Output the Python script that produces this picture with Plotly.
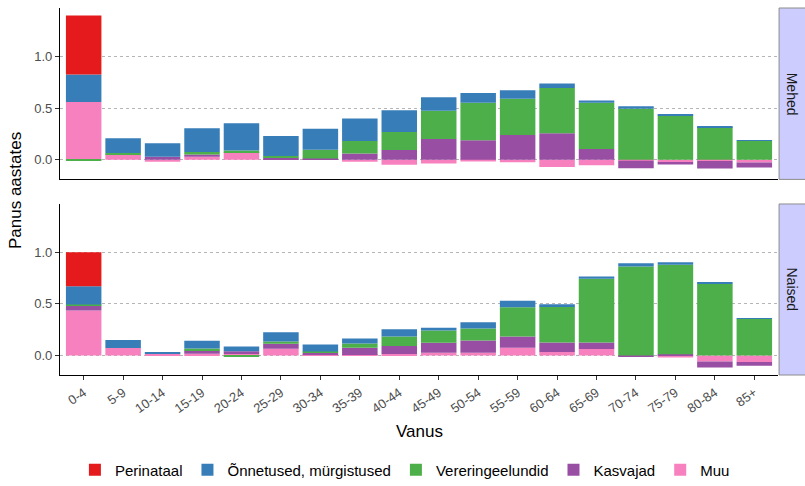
import plotly.graph_objects as go

categories = ['0-4', '5-9', '10-14', '15-19', '20-24', '25-29', '30-34', '35-39', '40-44',
              '45-49', '50-54', '55-59', '60-64', '65-69', '70-74', '75-79', '80-84', '85+']

cause_names = ['Perinataal', 'Õnnetused, mürgistused', 'Vereringeelundid', 'Kasvajad', 'Muu']
cause_colors = ['#E41A1C', '#377EB8', '#4DAF4A', '#984EA3', '#F781BF']
facets = ['Mehed', 'Naised']

# Mehed
mehed_perinataal = [0.573, 0, 0, 0, 0, 0, 0, 0, 0, 0, 0, 0, 0, 0, 0, 0, 0, 0]
mehed_onnetused = [0.265, 0.143, 0.13, 0.23, 0.263, 0.193, 0.205, 0.217, 0.211, 0.13, 0.095,
                   0.082, 0.042, 0.02, 0.023, 0.013, 0.004, 0.005]
mehed_vereringe = [-0.01, 0.01, 0.0, 0.025, 0.015, 0.015, 0.083, 0.123, 0.175, 0.275, 0.362,
                   0.352, 0.44, 0.449, 0.495, 0.431, 0.317, 0.182]
mehed_kasvajad = [0.0, 0.0, 0.03, 0.02, 0.0, 0.015, 0.01, 0.06, 0.094, 0.20, 0.19,
                  0.24, 0.256, 0.104, -0.073, -0.018, -0.071, -0.047]
mehed_muu = [0.56, 0.055, -0.02, 0.03, 0.075, 0.007, 0.003, -0.02, -0.048, -0.035, -0.016,
             -0.023, -0.07, -0.052, -0.01, -0.027, -0.013, -0.027]

# Naised
naised_perinataal = [0.329, 0, 0, 0, 0, 0, 0, 0, 0, 0, 0, 0, 0, 0, 0, 0, 0, 0]
naised_onnetused = [0.178, 0.078, 0.017, 0.075, 0.047, 0.091, 0.068, 0.049, 0.071, 0.026, 0.062,
                    0.062, 0.019, 0.02, 0.032, 0.023, 0.016, 0.003]
naised_vereringe = [0.013, 0.0, 0.0, 0.019, -0.01, 0.022, 0.013, 0.041, 0.093, 0.119, 0.116,
                    0.284, 0.352, 0.619, 0.862, 0.869, 0.694, 0.355]
naised_kasvajad = [0.045, 0.0, 0.0, 0.032, 0.025, 0.048, 0.016, 0.07, 0.078, 0.097, 0.119,
                   0.109, 0.093, 0.064, -0.008, 0.012, -0.058, -0.035]
naised_muu = [0.436, 0.071, 0.016, 0.016, 0.015, 0.065, 0.01, 0.005, 0.013, 0.026, 0.026,
              0.075, 0.033, 0.062, 0.0, -0.02, -0.058, -0.065]

y_ticks = [0.0, 0.5, 1.0]
y_tick_labels = ['0.0', '0.5', '1.0']

data = {
    'Mehed': [mehed_perinataal, mehed_onnetused, mehed_vereringe, mehed_kasvajad, mehed_muu],
    'Naised': [naised_perinataal, naised_onnetused, naised_vereringe, naised_kasvajad, naised_muu],
}

FONT = 'Arial, Liberation Sans, sans-serif'
fig = go.Figure()

# stacking order: Muu nearest zero, Perinataal outermost
stack_order = [4, 3, 2, 1, 0]
for fi, facet in enumerate(facets):
    xa = 'x' if fi == 0 else 'x2'
    ya = 'y' if fi == 0 else 'y2'
    for ci in stack_order:
        fig.add_trace(go.Bar(
            x=categories, y=data[facet][ci], name=cause_names[ci],
            marker=dict(color=cause_colors[ci], line=dict(width=0)),
            xaxis=xa, yaxis=ya, showlegend=(fi == 0), legendgroup=cause_names[ci],
            legendrank=ci + 1,
        ))

yaxis_common = dict(
    range=[-0.19, 1.47], tickvals=y_ticks, ticktext=y_tick_labels, automargin=False,
    showline=True, linecolor='black', linewidth=1.2, ticks='outside', ticklen=4,
    tickcolor='#333333', tickfont=dict(size=13, color='#4d4d4d', family=FONT),
    showgrid=True, gridcolor='#b5b5b5', griddash='dot', gridwidth=1, zeroline=False,
)
xaxis_common = dict(
    range=[-0.6, 17.6], showline=True, linecolor='black', linewidth=1.2, automargin=False,
    showgrid=False, zeroline=False, type='category',
    categoryorder='array', categoryarray=categories,
)

fig.update_layout(
    barmode='relative', bargap=0.1,
    width=805, height=486,
    margin=dict(l=60, r=27, t=8, b=111),
    plot_bgcolor='white', paper_bgcolor='white',
    font=dict(family=FONT, color='black'),
    xaxis=dict(**xaxis_common, anchor='y', showticklabels=False, ticks=''),
    yaxis=dict(**yaxis_common, domain=[0.533, 1.0], anchor='x'),
    xaxis2=dict(**xaxis_common, anchor='y2', ticks='outside', ticklen=4, tickcolor='#333333',
                tickangle=-35, tickfont=dict(size=13, color='#4d4d4d', family=FONT)),
    yaxis2=dict(**yaxis_common, domain=[0.0, 0.466], anchor='x2'),
    legend=dict(orientation='h', xref='container', yref='container',
                x=0.503, xanchor='center', y=0.033, yanchor='middle',
                font=dict(size=15, family=FONT, color='black'), itemsizing='constant',
                traceorder='normal'),
    showlegend=True,
)

# facet strips
strip_domains = [(0.533, 1.0), (0.0, 0.466)]
for facet, (d0, d1) in zip(facets, strip_domains):
    fig.add_shape(type='rect', xref='paper', yref='paper', x0=1.0015, x1=1.045, y0=d0, y1=d1,
                  fillcolor='#CCCCFF', line=dict(color='#8c8c8c', width=1), layer='below')
    fig.add_annotation(text=facet, xref='paper', yref='paper', x=1.0195, y=(d0 + d1) / 2,
                       textangle=90, showarrow=False, xanchor='center', yanchor='middle',
                       font=dict(size=14, color='#1a1a1a', family=FONT))

# axis titles
fig.add_annotation(text='Vanus', xref='paper', yref='paper', x=0.5, y=-0.155,
                   showarrow=False, xanchor='center', yanchor='middle',
                   font=dict(size=17, color='black', family=FONT))
fig.add_annotation(text='Panus aastates', xref='paper', yref='paper', x=-0.0627, y=0.504,
                   textangle=-90, showarrow=False, xanchor='center', yanchor='middle',
                   font=dict(size=17, color='black', family=FONT))

fig.write_html('out.html', config={'displayModeBar': False},
               post_script="document.body.style.margin='0';document.body.style.overflow='hidden';")
